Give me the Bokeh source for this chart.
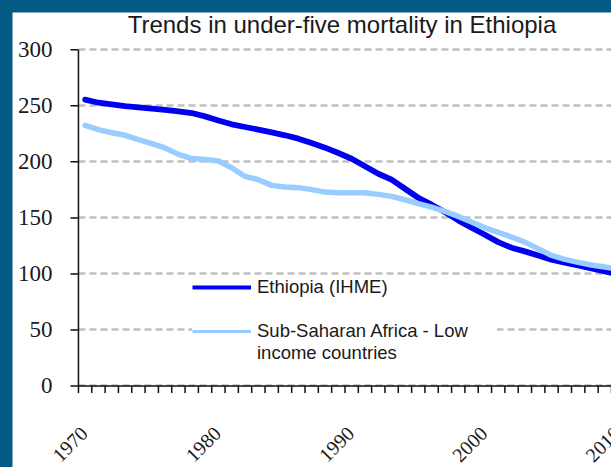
from math import pi

from bokeh.embed import file_html
from bokeh.layouts import column
from bokeh.models import (ColumnDataSource, FixedTicker, Label, LabelSet, Legend,
                          LegendItem, Range1d)
from bokeh.plotting import figure
from bokeh.resources import INLINE

# Under-five mortality (deaths per 1,000 live births), 1970-2010
years = list(range(1970, 2011))
ethiopia_ihme = [
    255.5, 252.8, 251.3, 249.8, 248.7, 247.5, 246.3, 245.1, 243.6, 240.6,
    237.0, 233.5, 231.1, 228.8, 226.3, 223.7, 220.7, 216.8, 212.7, 207.9,
    202.8, 196.0, 189.4, 184.1, 176.0, 168.0, 161.8, 155.2, 147.8, 141.2,
    135.0, 128.4, 123.4, 120.1, 116.5, 112.7, 110.0, 107.6, 104.9, 102.2,
    99.8,
]
ssa_low_income = [
    232.6, 228.8, 226.0, 223.7, 219.8, 216.3, 212.4, 206.7, 202.9, 202.2,
    200.7, 194.8, 187.0, 184.1, 179.0, 177.5, 177.0, 175.2, 173.0, 172.5,
    172.5, 172.5, 171.0, 169.2, 166.2, 162.7, 159.6, 155.8, 151.3, 146.3,
    141.2, 137.0, 132.9, 128.4, 122.5, 116.5, 113.0, 110.3, 107.9, 106.1,
    104.5,
]
year_labels = [1970, 1980, 1990, 2000, 2010]
y_ticks = [0, 50, 100, 150, 200, 250, 300]

title_text = "Trends in under-five mortality in Ethiopia"
name_eth = "Ethiopia (IHME)"
name_ssa = ["Sub-Saharan Africa - Low", "income countries"]

FONT = "Liberation Sans"
TEXT = "#1a1a1a"
AXIS = "#111111"
DARK_BLUE = "#0000F0"
LIGHT_BLUE = "#99CCFF"
FRAME_BLUE = "#035A85"

# The frame fills the whole canvas; the axes are drawn inside it as rules,
# ticks and labels so the heading and slanted year labels share the frame.
PX_PER_YEAR = 13.333
PX_PER_UNIT = 1.12
LEFT_ROOM = 66 / PX_PER_YEAR
HEAD_ROOM = 37.3 / PX_PER_UNIT
FOOT_ROOM = 81.5 / PX_PER_UNIT
YEAR_TICK = 7 / PX_PER_UNIT
VALUE_TICK = 8 / PX_PER_YEAR

x_lo, x_hi = years[0] - 0.5, years[-1] - 0.5
src = ColumnDataSource(dict(year=years, eth=ethiopia_ihme, ssa=ssa_low_income))

x_range = Range1d(x_lo - LEFT_ROOM, x_hi)
y_range = Range1d(y_ticks[0] - FOOT_ROOM, y_ticks[-1] + HEAD_ROOM)

p = figure(
    width=599, height=455, title=None,
    x_range=x_range, y_range=y_range,
    output_backend="svg", toolbar_location=None,
    x_axis_location=None, y_axis_location=None,
    min_border_left=0, min_border_right=0, min_border_top=0, min_border_bottom=0,
    background_fill_color="white", border_fill_color="white",
    outline_line_color=None,
    margin=(12, 0, 0, 12),
)

# dashed value gridlines, spanning only the plotting area
p.xgrid.visible = False
p.ygrid.ticker = FixedTicker(ticks=y_ticks, minor_ticks=[])
p.ygrid.bounds = (y_ticks[0], y_ticks[-1])
p.ygrid.cross_bounds = (x_lo, x_hi)
p.ygrid.grid_line_color = "#C0C0C0"
p.ygrid.grid_line_width = 2.5
p.ygrid.grid_line_dash = "7 4"

# year axis: rule at zero with a tick between every year
boundaries = [y - 0.5 for y in years]
p.segment(x0=[x_lo], y0=[y_ticks[0]], x1=[x_hi], y1=[y_ticks[0]],
          line_color=AXIS, line_width=1.5)
p.segment(x0=boundaries, y0=[y_ticks[0]] * len(boundaries),
          x1=boundaries, y1=[y_ticks[0] - YEAR_TICK] * len(boundaries),
          line_color=AXIS, line_width=1.5)

# value axis: rule over 0-300 with outward ticks and labels
p.segment(x0=[x_lo], y0=[y_ticks[0]], x1=[x_lo], y1=[y_ticks[-1]],
          line_color=AXIS, line_width=1.5)
p.segment(x0=[x_lo - VALUE_TICK] * len(y_ticks), y0=y_ticks,
          x1=[x_lo] * len(y_ticks), y1=y_ticks,
          line_color=AXIS, line_width=1.5)
p.add_layout(LabelSet(
    x="x", y="y", text="label",
    source=ColumnDataSource(dict(x=[x_lo] * len(y_ticks), y=y_ticks,
                                 label=[str(v) for v in y_ticks])),
    x_offset=-26, text_align="right", text_baseline="middle",
    text_font=FONT, text_font_size="23px", text_color=TEXT,
))

# decade labels, slanted and hanging well below the axis
p.add_layout(LabelSet(
    x="year", y="base", text="label",
    source=ColumnDataSource(dict(year=year_labels, base=[y_ticks[0]] * len(year_labels),
                                 label=[str(y) for y in year_labels])),
    angle=pi / 4, text_align="right", text_baseline="middle", x_offset=-1, y_offset=-44,
    text_font=FONT, text_font_size="20px", text_color=TEXT,
))

# chart heading, centred over the plotting area
p.add_layout(Label(
    x=(x_lo + x_hi) / 2, y=y_ticks[-1], x_offset=-3, y_offset=25,
    text=title_text, text_align="center", text_baseline="alphabetic",
    text_font=FONT, text_font_size="24px", text_color=TEXT,
))

r_eth = p.line("year", "eth", source=src, line_color=DARK_BLUE, line_width=5.8,
               line_join="round", line_cap="round")
r_ssa = p.line("year", "ssa", source=src, line_color=LIGHT_BLUE, line_width=5.5,
               line_join="round", line_cap="round")

# legend keys are drawn with thinner strokes than the series
nan = float("nan")
key_src = ColumnDataSource(dict(x=[nan], y=[nan]))
k_eth = p.line("x", "y", source=key_src, line_color=DARK_BLUE, line_width=4)
k_ssa = p.line("x", "y", source=key_src, line_color=LIGHT_BLUE, line_width=3)
k_none = p.line("x", "y", source=key_src, line_color="white", line_alpha=0)


def make_legend(items, loc, label_width):
    lg = Legend(
        items=items, location=loc, orientation="vertical",
        background_fill_color="white", background_fill_alpha=1.0,
        border_line_alpha=0, padding=0, spacing=0, margin=0,
        glyph_width=59, glyph_height=20, label_standoff=6,
        label_width=label_width, label_height=20,
        label_text_font=FONT, label_text_font_size="18.5px",
        label_text_color=TEXT,
    )
    p.add_layout(lg, "center")
    return lg


make_legend([LegendItem(label=name_eth, renderers=[k_eth])], (180, 169), 20)
make_legend([LegendItem(label=name_ssa[0], renderers=[k_ssa]),
             LegendItem(label=name_ssa[1], renderers=[k_none])], (180, 103.5), 240)

page = column(p, styles={"background-color": FRAME_BLUE}, width=611, height=467)

open("out.html", "w").write(file_html(page, INLINE))
